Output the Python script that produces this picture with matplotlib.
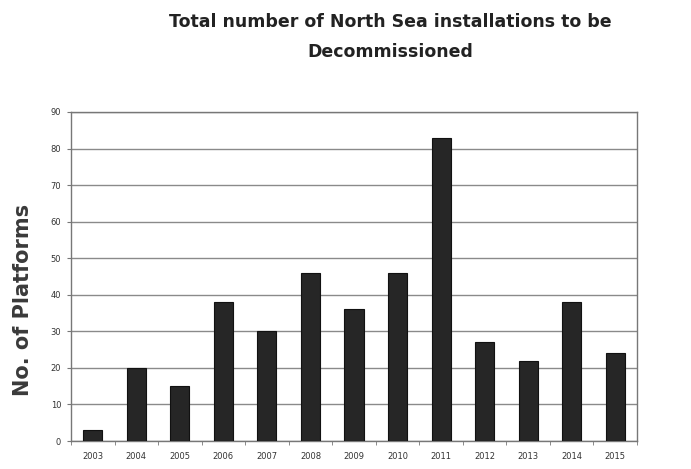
import matplotlib.pyplot as plt
import numpy as np

years = ["2003", "2004", "2005", "2006", "2007", "2008", "2009",
         "2010", "2011", "2012", "2013", "2014", "2015"]
platforms = [3, 20, 15, 38, 30, 46, 36, 46, 83, 27, 22, 38, 24]
y_ticks = [0, 10, 20, 30, 40, 50, 60, 70, 80, 90]

fig = plt.figure(figsize=(6.91, 4.69), dpi=100)
ax = fig.add_axes([0.1027, 0.0597, 0.8192, 0.7015])

x = np.arange(len(years))
ax.bar(x, platforms, width=0.44, color="#262626", edgecolor="#111111",
       linewidth=0.8, zorder=3)

ax.set_xlim(-0.5, len(years) - 0.5)
ax.set_ylim(0, 90)
ax.set_yticks(y_ticks)
ax.set_yticklabels([str(v) for v in y_ticks], fontsize=6, color="#333333")
ax.yaxis.grid(True, color="#8a8a8a", linewidth=1.0, zorder=0)

# category labels centred, tick marks between categories
ax.set_xticks(x)
ax.set_xticklabels(years, fontsize=6, color="#333333")
ax.tick_params(axis="x", length=0, pad=8)
ax.set_xticks(np.arange(-0.5, len(years)), minor=True)
ax.tick_params(axis="x", which="minor", length=3, color="#777777", direction="out")
ax.tick_params(axis="y", length=3, color="#777777", pad=4)

for side in ["left", "right", "top", "bottom"]:
    ax.spines[side].set_color("#777777")
    ax.spines[side].set_linewidth(1.0)

fig.text(0.034, 0.36, "No. of Platforms", rotation=90, ha="center", va="center",
         fontsize=15, fontweight="bold", color="#3a3a3a")
fig.text(0.565, 0.953, "Total number of North Sea installations to be",
         ha="center", va="center", fontsize=12.5, fontweight="bold", color="#222222")
fig.text(0.565, 0.889, "Decommissioned",
         ha="center", va="center", fontsize=12.5, fontweight="bold", color="#222222")

fig.savefig("out.png", dpi=100)
